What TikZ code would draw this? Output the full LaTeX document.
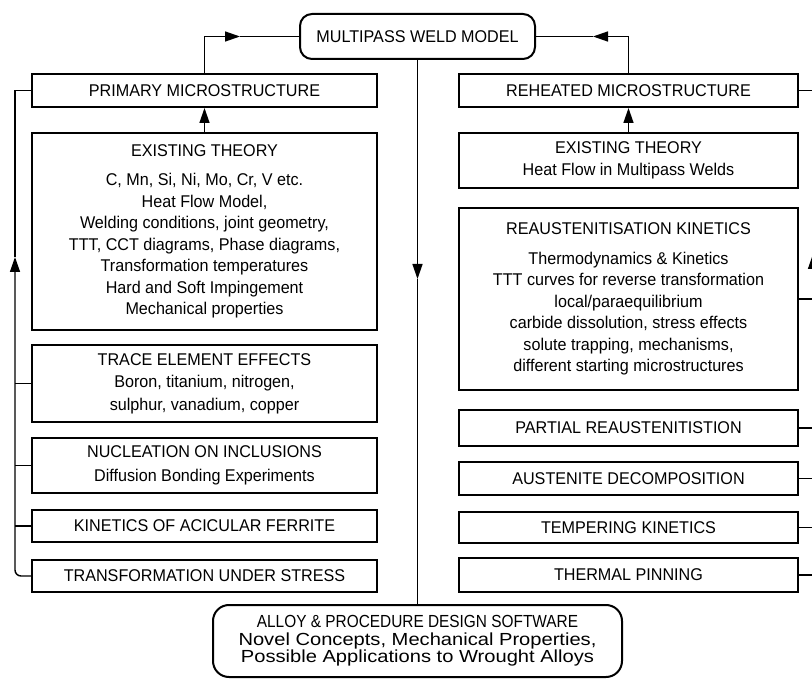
\documentclass[tikz,border=0pt]{standalone}
\usepackage{fontspec}
\setmainfont{Liberation Sans}[FakeStretch=0.95]
\newfontfamily\softcaps{Liberation Sans}[FakeStretch=0.88]
\newfontfamily\softtext{Liberation Sans}[FakeStretch=1.15]
\usetikzlibrary{arrows.meta}
\begin{document}
\begin{tikzpicture}[x=1pt,y=-1pt,
  box/.style={draw,line width=2pt,inner sep=0pt,align=center,font=\fontsize{17}{21.5}\selectfont},
  lbox/.style={box,minimum width=345pt},
  rbox/.style={box,minimum width=339pt},
  link/.style={line width=1.4pt},
  arr/.style={link,-{Triangle[length=15pt,width=10pt]}}]
\useasboundingbox (0,0) rectangle (812,679);
\node[box,rounded corners=12pt,minimum width=235pt,minimum height=45pt] (model) at (417.5,36.5) {MULTIPASS WELD MODEL};
% left column
\node[lbox,minimum height=33pt]  (prim)  at (204.5,90.5)  {PRIMARY MICROSTRUCTURE};
\node[lbox,minimum height=197pt] (exl)   at (204.5,231.5) {EXISTING THEORY\\[8pt]
  C, Mn, Si, Ni, Mo, Cr, V etc.\\ Heat Flow Model,\\ Welding conditions, joint geometry,\\
  TTT, CCT diagrams, Phase diagrams,\\ Transformation temperatures\\
  Hard and Soft Impingement\\ Mechanical properties};
\node[lbox,minimum height=77pt]  (trace) at (204.5,383.5) {TRACE ELEMENT EFFECTS\\[1pt]
  Boron, titanium, nitrogen,\\[1pt] sulphur, vanadium, copper};
\node[lbox,minimum height=55pt]  (nucl)  at (204.5,465.5) {NUCLEATION ON INCLUSIONS\\[3pt] Diffusion Bonding Experiments};
\node[lbox,minimum height=32pt]  (kin)   at (204.5,526)   {KINETICS OF ACICULAR FERRITE};
\node[lbox,minimum height=32pt]  (trans) at (204.5,576)   {TRANSFORMATION UNDER STRESS};
% right column
\node[rbox,minimum height=33pt]  (reh)   at (628.5,90.5)  {REHEATED MICROSTRUCTURE};
\node[rbox,minimum height=55pt]  (exr)   at (628.5,160.5) {EXISTING THEORY\\[1pt] Heat Flow in Multipass Welds};
\node[rbox,minimum height=182pt] (reaus) at (628.5,299)   {REAUSTENITISATION KINETICS\\[8pt]
  Thermodynamics \& Kinetics\\ TTT curves for reverse transformation\\ local/paraequilibrium\\
  carbide dissolution, stress effects\\ solute trapping, mechanisms,\\ different starting microstructures};
\node[rbox,minimum height=36pt]  (part)  at (628.5,428)   {PARTIAL REAUSTENITISTION};
\node[rbox,minimum height=33pt]  (aus)   at (628.5,478.5) {AUSTENITE DECOMPOSITION};
\node[rbox,minimum height=31pt]  (temp)  at (628.5,527.5) {TEMPERING KINETICS};
\node[rbox,minimum height=34pt]  (therm) at (628.5,575)   {THERMAL PINNING};
\node[draw,line width=2pt,rounded corners=16pt,inner sep=0pt,align=center,
  minimum width=409pt,minimum height=72pt,font=\fontsize{17.5}{17.5}\selectfont] (soft) at (417.5,641)
  {\softcaps ALLOY \& PROCEDURE DESIGN SOFTWARE\\ \softtext Novel Concepts, Mechanical Properties,\\
   \softtext Possible Applications to Wrought Alloys};
\coordinate (la) at (240,36.5);
\coordinate (ra) at (593,36.5);
\coordinate (ca) at (417.5,279);
\coordinate (lt) at (15,257);
\coordinate (rt) at (813,254);
\draw[arr] (prim.north) |- (la);  \draw[link] (la) -- (model.west);
\draw[arr] (reh.north) |- (ra);   \draw[link] (ra) -- (model.east);
\draw[arr] (model.south) -- (ca); \draw[link] (ca) -- (soft.north);
\draw[arr] (exl.north) -- (prim.south);
\draw[arr] (exr.north) -- (reh.south);
\draw[arr,rounded corners=6pt] (trans.west) -| (lt);
\draw[link] (lt) |- (prim.west);
\foreach \n in {trace,nucl,kin} \draw[link] (\n.west) -- (\n.west -| lt);
\draw[arr] (therm.east) -| (rt);
\draw[link] (rt) |- (reh.east);
\foreach \n in {reaus,part,aus,temp} \draw[link] (\n.east) -- (\n.east -| rt);
\end{tikzpicture}
\end{document}
